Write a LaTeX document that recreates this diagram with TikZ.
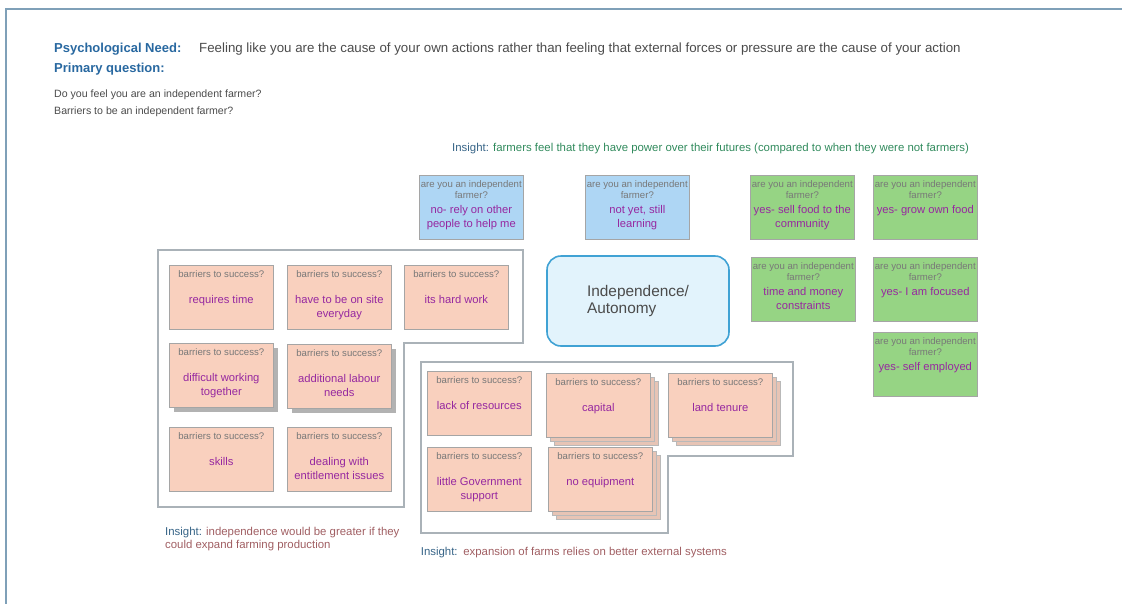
\documentclass[tikz,border=0pt]{standalone}
\usepackage{fontspec}
\setmainfont{Liberation Sans}
\usetikzlibrary{shadows}
\definecolor{framecol}{RGB}{127,160,184}
\definecolor{headblue}{RGB}{40,104,160}
\definecolor{headgray}{RGB}{75,75,75}
\definecolor{peachfill}{RGB}{249,208,190}
\definecolor{skyfill}{RGB}{174,214,244}
\definecolor{leaffill}{RGB}{150,212,132}
\definecolor{noteedge}{RGB}{165,165,165}
\definecolor{notepurple}{RGB}{150,40,160}
\definecolor{titlegray}{RGB}{120,120,120}
\definecolor{hubblue}{RGB}{64,162,212}
\definecolor{hubfill}{RGB}{226,243,252}
\definecolor{groupgray}{RGB}{170,178,184}
\definecolor{insightblue}{RGB}{55,100,135}
\definecolor{insightgreen}{RGB}{48,138,92}
\definecolor{insightred}{RGB}{160,94,98}
\tikzset{
  note/.style={rectangle, draw=noteedge, line width=0.6pt, minimum width=104pt, minimum height=64pt, anchor=north west, inner sep=0pt},
  notetitle/.style={anchor=north, yshift=-4pt, inner sep=1pt, align=center, text=titlegray, font=\fontsize{9.6}{11}\selectfont},
  notetext/.style={anchor=north, yshift=-29.5pt, inner sep=1pt, align=center, text=notepurple, font=\fontsize{11.2}{14}\selectfont},
  barrier/.style={note, fill=peachfill, label={[notetitle]north:barriers to success?}},
  askcard/.style={note, label={[notetitle]north:{are you an independent\\farmer?}}},
  notyet/.style={askcard, fill=skyfill},
  yescard/.style={askcard, fill=leaffill},
  shadowed/.style={drop shadow={shadow xshift=5pt, shadow yshift=-5pt, fill=gray!60, opacity=1}},
  stacked/.style={double copy shadow={shadow xshift=4pt, shadow yshift=-4pt, fill=peachfill!85!gray, draw=gray!55}},
  group/.style={draw=groupgray, line width=1.3pt},
  hub/.style={rectangle, rounded corners=14pt, draw=hubblue, line width=1.6pt, fill=hubfill, minimum width=182pt, minimum height=90pt, align=left, text=headgray, font=\fontsize{15.4}{17}\selectfont},
  heading/.style={anchor=base west, inner sep=0pt, text=headblue, font=\fontsize{13}{15}\selectfont\bfseries},
  plain/.style={anchor=base west, inner sep=0pt, text=headgray, font=\fontsize{13.3}{15}\selectfont},
  question/.style={anchor=base west, inner sep=0pt, text=headgray, font=\fontsize{10.6}{13}\selectfont},
  insight/.style={inner sep=0pt, align=left, font=\fontsize{11.4}{13.5}\selectfont}
}
\begin{document}
\begin{tikzpicture}[x=1pt, y=-1pt]
  \useasboundingbox (0,0) rectangle (1122,603);
  \draw[framecol, line width=2pt] (6,610) -- (6,9) -- (1130,9);

  % header
  \node[heading] (need) at (54,52) {Psychological Need:};
  \node[plain] (needtext) at (199,52) {Feeling like you are the cause of your own actions rather than feeling that external forces or pressure are the cause of your action};
  \node[heading] (primary) at (54,72.5) {Primary question:};
  \node[question] (q1) at (54,97) {Do you feel you are an independent farmer?};
  \node[question] (q2) at (54,114) {Barriers to be an independent farmer?};

  % are you an independent farmer?
  \node[insight, anchor=base west] (topinsight) at (452,151.5) {\textcolor{insightblue}{Insight:} \textcolor{insightgreen}{farmers feel that they have power over their futures (compared to when they were not farmers)}};
  \node[notyet, label={[notetext]north:{no- rely on other\\people to help me}}] (rely) at (419,175) {};
  \node[notyet, label={[notetext]north:{not yet, still\\learning}}] (learning) at (585,175) {};
  \node[yescard, label={[notetext]north:{yes- sell food to the\\community}}] (community) at (750,175) {};
  \node[yescard, label={[notetext]north:{yes- grow own food}}] (ownfood) at (873,175) {};
  \node[yescard, label={[notetext]north:{time and money\\constraints}}] (constraints) at (751,257) {};
  \node[yescard, label={[notetext]north:{yes- I am focused}}] (focused) at (873,257) {};
  \node[yescard, label={[notetext]north:{yes- self employed}}] (selfemployed) at (873,332) {};

  \node[hub] (autonomy) at (638,301) {Independence/\\Autonomy};

  % barriers: own effort
  \draw[group] (158,250) -- (523,250) -- (523,343) -- (404,343) -- (404,507) -- (158,507) -- cycle;
  \node[barrier, label={[notetext]north:{requires time}}] (time) at (169,265) {};
  \node[barrier, label={[notetext]north:{have to be on site\\everyday}}] (onsite) at (287,265) {};
  \node[barrier, label={[notetext]north:{its hard work}}] (hardwork) at (404,265) {};
  \node[barrier, shadowed, label={[notetext]north:{difficult working\\together}}] (together) at (169,343) {};
  \node[barrier, shadowed, label={[notetext]north:{additional labour\\needs}}] (labour) at (287,344) {};
  \node[barrier, label={[notetext]north:{skills}}] (skills) at (169,427) {};
  \node[barrier, label={[notetext]north:{dealing with\\entitlement issues}}] (entitlement) at (287,427) {};
  \node[insight, anchor=north west] (leftinsight) at (165,527) {\textcolor{insightblue}{Insight:} \textcolor{insightred}{independence would be greater if they}\\\textcolor{insightred}{could expand farming production}};

  % barriers: external systems
  \draw[group] (421,362) -- (793,362) -- (793,456) -- (668,456) -- (668,533) -- (421,533) -- cycle;
  \node[barrier, label={[notetext]north:{lack of resources}}] (resources) at (427,371) {};
  \node[barrier, stacked, label={[notetext]north:{capital}}] (capital) at (546,373) {};
  \node[barrier, stacked, label={[notetext]north:{land tenure}}] (tenure) at (668,373) {};
  \node[barrier, label={[notetext]north:{little Government\\support}}] (government) at (427,447) {};
  \node[barrier, stacked, label={[notetext]north:{no equipment}}] (equipment) at (548,447) {};
  \node[insight, anchor=base west] (rightinsight) at (420.7,555.5) {\textcolor{insightblue}{Insight:}\enspace\textcolor{insightred}{expansion of farms relies on better external systems}};
\end{tikzpicture}
\end{document}
